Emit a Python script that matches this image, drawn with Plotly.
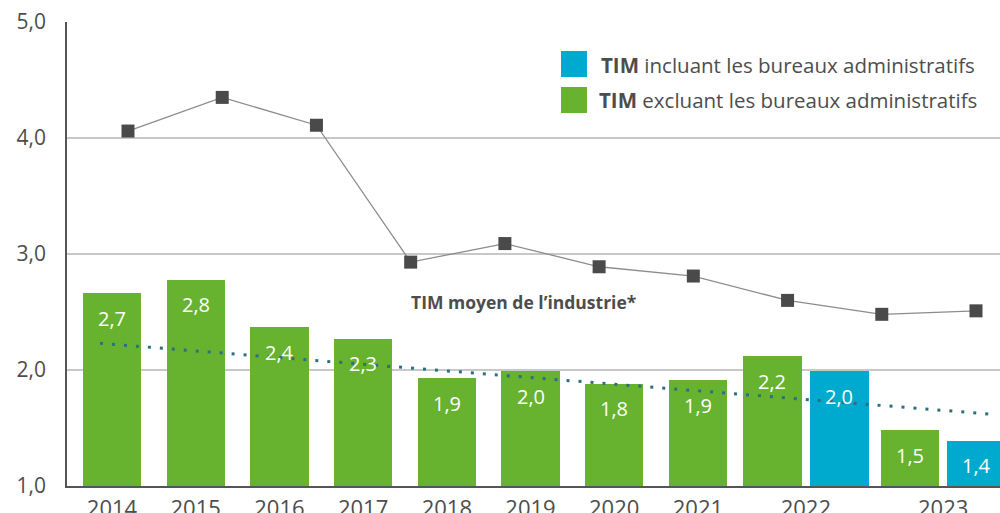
import plotly.graph_objects as go

# ---------------- data ----------------
years = ["2014", "2015", "2016", "2017", "2018", "2019", "2020", "2021", "2022", "2023"]
excl_values = [2.66, 2.78, 2.37, 2.27, 1.93, 1.99, 1.88, 1.91, 2.12, 1.48]
excl_labels = ["2,7", "2,8", "2,4", "2,3", "1,9", "2,0", "1,8", "1,9", "2,2", "1,5"]
incl_years = ["2022", "2023"]
incl_values = [1.99, 1.39]
incl_labels = ["2,0", "1,4"]
industry_values = [4.06, 4.35, 4.11, 2.93, 3.09, 2.89, 2.81, 2.60, 2.48, 2.51]
trend_values = [2.23, 1.62]

legend_incl = "<b>TIM</b> incluant les bureaux administratifs"
legend_excl = "<b>TIM</b> excluant les bureaux administratifs"
industry_title = "TIM moyen de l’industrie*"

# ---------------- layout helpers ----------------
W, H = 1000, 513
L, R, T, B = 67, 0, 22, 27
PW, PH = W - L - R, H - T - B

GREEN = "#67b22f"
BLUE = "#00a9ce"
DARK = "#4a4a4a"
TEXT = "#4d4d4d"
FONT = "Open Sans"


def px_x(p):
    return (p - L) / PW


def px_y(p):
    return (H - B - p) / PH


# slot layout for the bar axis (one unit = one regular year slot)
split_years = set(incl_years)
slot_of = {}
for i, yr in enumerate(years):
    slot_of[yr] = float(i)
slot_of["2022"] = 8.29
slot_of["2023"] = 9.93
PAIR_OFF = 0.40
BAR_W = 0.6965

excl_x = [slot_of[y] - PAIR_OFF if y in split_years else slot_of[y] for y in years]
incl_x = [slot_of[y] + PAIR_OFF for y in incl_years]

# line axis (years numeric)
year_nums = [int(y) for y in years]
trend_x = [year_nums[0] - 0.297, year_nums[-1] + 0.149]

fig = go.Figure()

fig.add_trace(go.Bar(x=excl_x, y=[v - 1 for v in excl_values], base=1, width=BAR_W,
                     marker=dict(color=GREEN, line=dict(width=0)),
                     name="excluant", showlegend=False, hoverinfo="skip"))
fig.add_trace(go.Bar(x=incl_x, y=[v - 1 for v in incl_values], base=1, width=BAR_W,
                     marker=dict(color=BLUE, line=dict(width=0)),
                     name="incluant", showlegend=False, hoverinfo="skip"))

fig.add_trace(go.Scatter(x=trend_x, y=trend_values, xaxis="x2", mode="lines",
                         line=dict(color="#2b7080", width=3, dash="3px,9px"),
                         showlegend=False, hoverinfo="skip"))

fig.add_trace(go.Scatter(x=year_nums, y=industry_values, xaxis="x2", mode="lines+markers",
                         line=dict(color="#8c8c8c", width=1.3),
                         marker=dict(symbol="square", size=13, color=DARK),
                         showlegend=False, hoverinfo="skip"))

annotations = []
for x, v, lab in list(zip(excl_x, excl_values, excl_labels)) + list(zip(incl_x, incl_values, incl_labels)):
    annotations.append(dict(x=x, y=v, xref="x", yref="y", text=lab, showarrow=False,
                            yshift=-25, font=dict(family=FONT, size=20, color="white")))

annotations.append(dict(x=px_x(599), y=px_y(65), xref="paper", yref="paper",
                        xanchor="left", yanchor="middle",
                        text=legend_incl, showarrow=False,
                        font=dict(family=FONT, size=20.5, color=TEXT)))
annotations.append(dict(x=px_x(597), y=px_y(100), xref="paper", yref="paper",
                        xanchor="left", yanchor="middle",
                        text=legend_excl, showarrow=False,
                        font=dict(family=FONT, size=20.5, color=TEXT)))
annotations.append(dict(x=px_x(409), y=px_y(302), xref="paper", yref="paper",
                        xanchor="left", yanchor="middle",
                        text="<b>" + industry_title + "</b>", showarrow=False,
                        font=dict(family=FONT, size=17.5, color=TEXT)))

shapes = [
    dict(type="rect", xref="paper", yref="paper", x0=px_x(561), x1=px_x(587),
         y0=px_y(77), y1=px_y(51), fillcolor=BLUE, line=dict(width=0)),
    dict(type="rect", xref="paper", yref="paper", x0=px_x(561), x1=px_x(587),
         y0=px_y(113), y1=px_y(87), fillcolor=GREEN, line=dict(width=0)),
]

tick_vals = [(slot_of[y]) for y in years]

fig.update_layout(
    width=W, height=H,
    margin=dict(l=L, r=R, t=T, b=B, pad=0, autoexpand=False),
    paper_bgcolor="white", plot_bgcolor="white",
    separators=",.",
    bargap=0,
    barmode="overlay",
    font=dict(family=FONT, color=TEXT),
    xaxis=dict(range=[-(112 - L) / 83.7, (W - R - 112) / 83.7], tickvals=tick_vals, ticktext=years,
               showgrid=False, zeroline=False, showline=True, linecolor="#555555", linewidth=1.5,
               ticks="", ticklabelstandoff=2, automargin=False,
               tickfont=dict(family=FONT, size=22, color=TEXT), fixedrange=True),
    xaxis2=dict(range=[2014 - (128 - L) / 94.22, 2023 + (W - R - 976) / 94.22],
                overlaying="x", visible=False, fixedrange=True, automargin=False),
    yaxis=dict(range=[1, 5], dtick=1, tick0=1, tickformat=".1f",
               showgrid=True, gridcolor="#c8c8c8", gridwidth=1.5,
               zeroline=False, showline=True, linecolor="#555555", linewidth=1.5,
               ticks="", ticklabelstandoff=15, automargin=False,
               tickfont=dict(family=FONT, size=21, color=TEXT), fixedrange=True),
    annotations=annotations,
    shapes=shapes,
)

fig.write_html("out.html", config={"displayModeBar": False},
               post_script="document.body.style.margin='0';document.body.style.overflow='hidden';")
